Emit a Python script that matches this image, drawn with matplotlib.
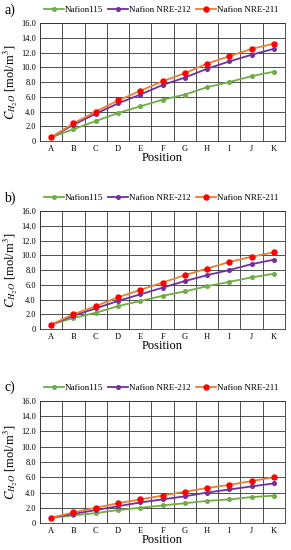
"""
Water concentration along channel positions for three membranes
"""
import matplotlib
matplotlib.use('Agg')
import matplotlib.pyplot as plt

plt.rcParams['font.family'] = ['Liberation Serif', 'DejaVu Serif']
plt.rcParams['mathtext.fontset'] = 'stix'

positions = ['A', 'B', 'C', 'D', 'E', 'F', 'G', 'H', 'I', 'J', 'K']
series_names = ['Nafion115', 'Nafion NRE-212', 'Nafion NRE-211']

# panel a)
a_n115 = [0.5, 1.6, 2.7, 3.8, 4.7, 5.6, 6.3, 7.3, 8.0, 8.8, 9.4]
a_n212 = [0.5, 2.2, 3.7, 5.1, 6.3, 7.6, 8.6, 9.8, 10.8, 11.7, 12.5]
a_n211 = [0.5, 2.4, 4.0, 5.5, 6.8, 8.1, 9.2, 10.5, 11.5, 12.5, 13.2]

# panel b)
b_n115 = [0.6, 1.5, 2.2, 3.1, 3.8, 4.5, 5.1, 5.8, 6.4, 7.0, 7.5]
b_n212 = [0.6, 1.8, 2.8, 3.8, 4.7, 5.6, 6.5, 7.3, 8.0, 8.8, 9.4]
b_n211 = [0.6, 2.0, 3.1, 4.3, 5.3, 6.3, 7.3, 8.2, 9.1, 9.8, 10.4]

# panel c)
c_n115 = [0.7, 1.0, 1.3, 1.7, 2.0, 2.3, 2.6, 2.9, 3.1, 3.4, 3.6]
c_n212 = [0.7, 1.2, 1.7, 2.2, 2.7, 3.1, 3.5, 4.0, 4.4, 4.8, 5.2]
c_n211 = [0.7, 1.4, 2.0, 2.6, 3.1, 3.6, 4.1, 4.6, 5.0, 5.5, 6.0]

yticks = [0, 2, 4, 6, 8, 10, 12, 14, 16]
ytick_labels = ['0', '2.0', '4.0', '6.0', '8.0', '10.0', '12.0', '14.0', '16.0']

line_colors = ['#70AD47', '#7030A0', '#ED7D31']
marker_colors = ['#70AD47', '#7030A0', '#FF0000']
marker_sizes = [2.6, 2.6, 3.6]

panels = [
    ('a)', [a_n115, a_n212, a_n211], [0.1375, 0.7436, 0.842, 0.2145], 0.982),
    ('b)', [b_n115, b_n212, b_n211], [0.1375, 0.4018, 0.842, 0.2145], 0.640),
    ('c)', [c_n115, c_n212, c_n211], [0.1375, 0.0490, 0.842, 0.2220], 0.295),
]

fig = plt.figure(figsize=(2.91, 5.5), dpi=100)

for label, data, rect, leg_y in panels:
    ax = fig.add_axes(rect)
    x = list(range(len(positions)))
    handles = []
    for vals, name, lc, mc, ms in zip(data, series_names, line_colors, marker_colors, marker_sizes):
        h, = ax.plot(x, vals, color=lc, linewidth=1.3, marker='o',
                     markersize=ms, markerfacecolor=mc, markeredgecolor=mc,
                     label=name, zorder=3)
        handles.append(h)

    ax.set_xlim(-0.5, len(positions) - 0.5)
    ax.set_ylim(0, 16)
    ax.set_yticks(yticks)
    ax.set_yticklabels(ytick_labels, fontsize=6)
    ax.set_xticks(x)
    ax.set_xticklabels(positions, fontsize=6)
    ax.tick_params(length=0, pad=3)

    # grid: horizontal at major y, vertical at category boundaries
    for yv in yticks:
        ax.axhline(yv, color='#333333', linewidth=0.6, zorder=1)
    for xv in range(len(positions) + 1):
        ax.axvline(xv - 0.5, color='#333333', linewidth=0.6, zorder=1)
    for sp in ax.spines.values():
        sp.set_color('#333333')
        sp.set_linewidth(0.6)

    ax.set_xlabel('Position', fontsize=9, labelpad=-1)
    ax.set_ylabel(r'$C_{H_2O}$ [mol/m$^3$]', fontsize=9, labelpad=1)

    fig.legend(handles=handles, loc='center', bbox_to_anchor=(0.553, leg_y),
               ncol=3, frameon=False, fontsize=6.5, handlelength=2.2,
               handletextpad=0.1, columnspacing=0.6, borderaxespad=0)
    fig.text(0.015, leg_y, label, fontsize=10, va='center', ha='left')

fig.savefig('out.png', dpi=100)
